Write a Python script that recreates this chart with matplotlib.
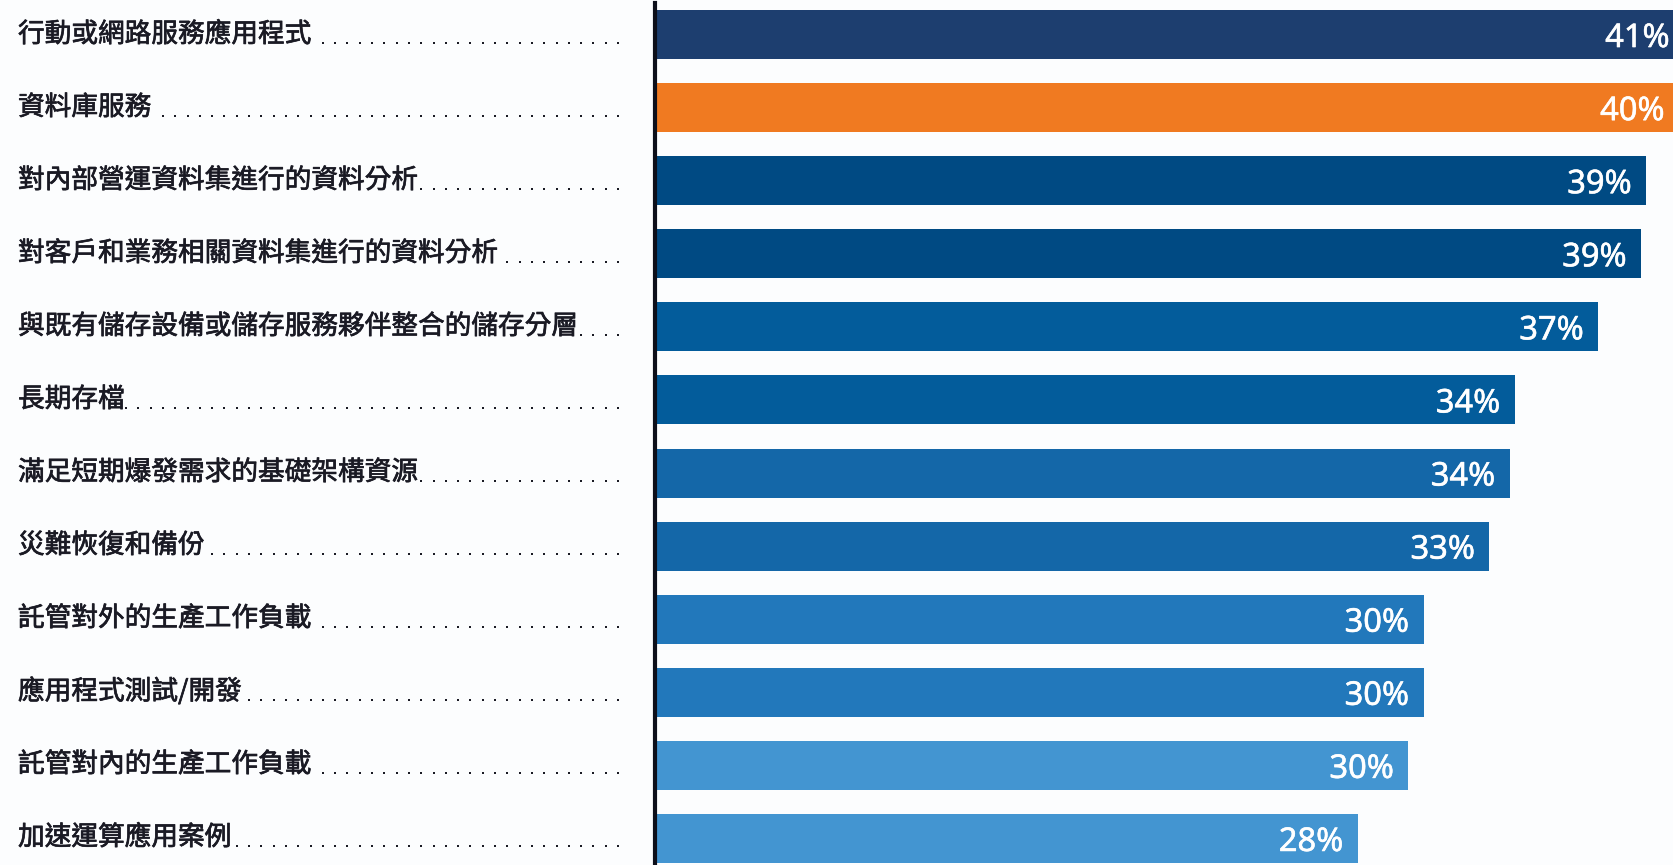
import matplotlib
matplotlib.use("Agg")
import matplotlib.pyplot as plt
from matplotlib.lines import Line2D
import matplotlib.patheffects as pe

categories = [
    "行動或網路服務應用程式",
    "資料庫服務",
    "對內部營運資料集進行的資料分析",
    "對客戶和業務相關資料集進行的資料分析",
    "與既有儲存設備或儲存服務夥伴整合的儲存分層",
    "長期存檔",
    "滿足短期爆發需求的基礎架構資源",
    "災難恢復和備份",
    "託管對外的生產工作負載",
    "應用程式測試/開發",
    "託管對內的生產工作負載",
    "加速運算應用案例",
]
values = [40.6, 40.4, 39.1, 38.9, 37.2, 33.9, 33.7, 32.9, 30.3, 30.3, 29.7, 27.7]
value_labels = ["41%", "40%", "39%", "39%", "37%", "34%", "34%", "33%", "30%", "30%", "30%", "28%"]
colors = ["#1d3e6f", "#f07a21", "#004a83", "#004a83", "#035c9b", "#035c9b",
          "#1467a8", "#1467a8", "#2278bb", "#2278bb", "#4395d1", "#4395d1"]

W, H = 1674, 865
DPI = 100
BG = "#fcfdfe"

fig = plt.figure(figsize=(W / DPI, H / DPI), dpi=DPI, facecolor=BG)

ax_left_px = 657.0
ax_top_px = 3.3
pitch = 73.0
px_per_unit = 25.3
n = len(categories)

ax = fig.add_axes([ax_left_px / W, 0, 1 - ax_left_px / W, 1 - ax_top_px / H])
ax.set_facecolor(BG)
ypos = list(range(n))
ax.barh(ypos, values, height=49 / pitch, color=colors, zorder=2)

ax.set_xlim(0, (W - ax_left_px) / px_per_unit)
top_units = (34.5 - ax_top_px) / pitch
bottom_units = (H - 838.5) / pitch
ax.set_ylim(n - 1 + bottom_units, -top_units)

for s in ["top", "right", "bottom"]:
    ax.spines[s].set_visible(False)
ax.spines["left"].set_linewidth(3.0)
ax.spines["left"].set_color("#0d0f1a")
ax.spines["left"].set_position(("outward", 1.4))
ax.spines["left"].set_zorder(5)
ax.set_xticks([])
ax.set_yticks([])

pad_units = 14.5 / px_per_unit
for y, v, lab in zip(ypos, values, value_labels):
    ax.text(v - pad_units, y, lab, ha="right", va="center_baseline",
            color="white", fontsize=23.5, family=["Noto Sans", "DejaVu Sans"], zorder=3,
            path_effects=[pe.withStroke(linewidth=0.4, foreground="white")])

# category labels with dotted leaders
label_texts = []
for i, cat in enumerate(categories):
    yc = 34.5 + pitch * i
    t = fig.text(18 / W, 1 - yc / H, cat, ha="left", va="center",
                 fontsize=19.2, color="#1a1a24",
                 family=["Noto Sans CJK TC", "DejaVu Sans"],
                 path_effects=[pe.withStroke(linewidth=0.5, foreground="#1a1a24")])
    label_texts.append((t, yc))

fig.canvas.draw()
renderer = fig.canvas.get_renderer()
for t, yc in label_texts:
    bb = t.get_window_extent(renderer)
    text_right = bb.x1
    xs = []
    x = 618.0
    while x > text_right + 1.5:
        xs.append(x)
        x -= 12.3
    ydot = yc + 8.5
    fig.add_artist(Line2D([xx / W for xx in xs], [1 - ydot / H] * len(xs),
                          transform=fig.transFigure, linestyle="none",
                          marker="s", markersize=1.9, color="#1a1a24",
                          markeredgewidth=0))

fig.savefig("out.png", dpi=DPI, facecolor=BG)
